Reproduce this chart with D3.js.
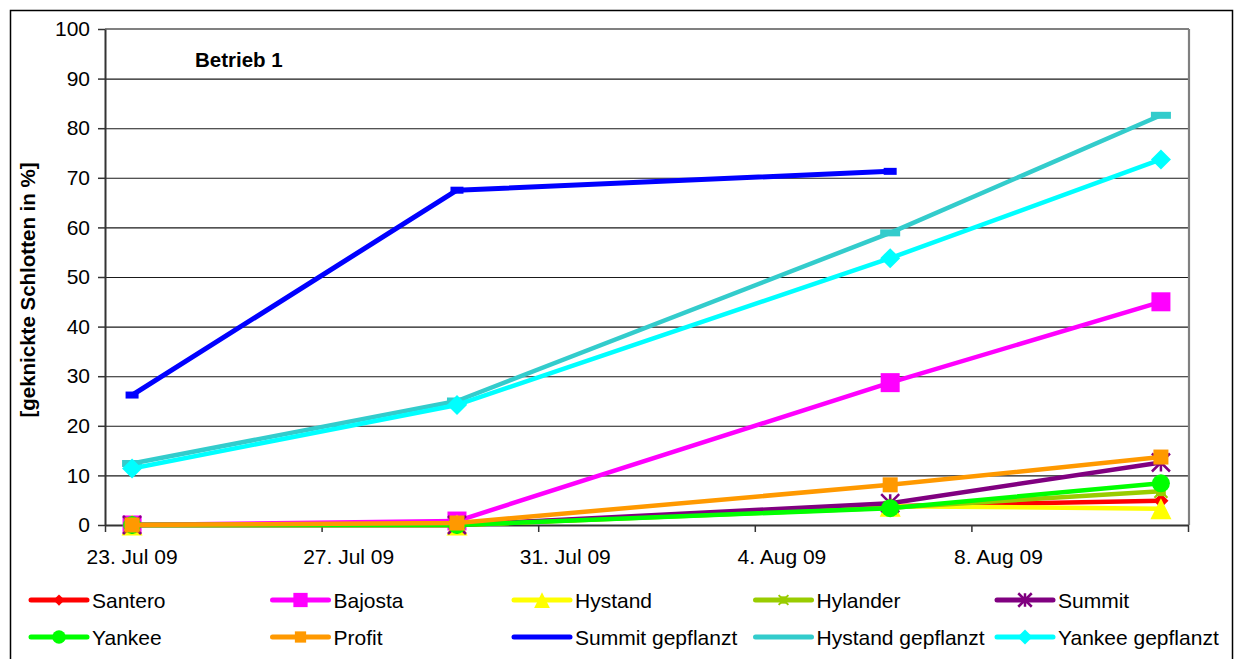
<!DOCTYPE html>
<html><head><meta charset="utf-8">
<script src="https://cdn.jsdelivr.net/npm/d3@7"></script>
<style>
html,body{margin:0;padding:0;background:#fff;}
svg{display:block;font-family:Arial,"Liberation Sans",sans-serif;}
</style></head><body>
<script>
// ---- data ----
const dates = ["2009-07-23", "2009-07-29", "2009-08-06", "2009-08-11"];
const seriesNames = ["Santero", "Bajosta", "Hystand", "Hylander", "Summit",
  "Yankee", "Profit", "Summit gepflanzt", "Hystand gepflanzt", "Yankee gepflanzt"];
const santero = [0, 0, 3.8, 4.9];
const bajosta = [0, 0.8, 28.7, 45.0];
const hystand = [0, 0, 3.8, 3.3];
const hylander = [0, 0, 3.5, 6.8];
const summit = [0, 0, 4.4, 12.6];
const yankee = [0, 0, 3.4, 8.4];
const profit = [0, 0.4, 8.1, 13.7];
const summitGepflanzt = [26.2, 67.5, 71.3, null];
const hystandGepflanzt = [12.4, 25.0, 58.9, 82.6];
const yankeeGepflanzt = [11.4, 24.2, 53.8, 73.7];
const yTicks = [0, 10, 20, 30, 40, 50, 60, 70, 80, 90, 100];
const xTickDates = ["2009-07-23", "2009-07-27", "2009-07-31", "2009-08-04", "2009-08-08", "2009-08-12"];
const xTickLabels = ["23. Jul 09", "27. Jul 09", "31. Jul 09", "4. Aug 09", "8. Aug 09"];
const chartTitle = "Betrieb 1";
const yTitle = "[geknickte Schlotten in %]";

const seriesValues = [santero, bajosta, hystand, hylander, summit, yankee, profit,
  summitGepflanzt, hystandGepflanzt, yankeeGepflanzt];

// ---- styles ----
const styles = [
  {color: "#FF0000", marker: "diamond", size: 15},
  {color: "#FF00FF", marker: "square", size: 19},
  {color: "#FFFF00", marker: "triangle", size: 21},
  {color: "#99CC00", marker: "xsquare", size: 13},
  {color: "#800080", marker: "asterisk", size: 18},
  {color: "#00FF00", marker: "circle", size: 18},
  {color: "#FF9900", marker: "square", size: 15},
  {color: "#0000FF", marker: "dash", size: 13},
  {color: "#33CCCC", marker: "dash", size: 20},
  {color: "#00FFFF", marker: "diamond", size: 20}
];

const W = 1239, H = 659;
const FONT = 21;
const svg = d3.select("body").append("svg").attr("width", W).attr("height", H);

// outer frame
svg.append("rect").attr("x", 10.5).attr("y", 10.5).attr("width", 1222).attr("height", 652)
  .attr("fill", "#fff").attr("stroke", "#000").attr("stroke-width", 1.5);

const parse = d3.timeParse("%Y-%m-%d");
const x = d3.scaleTime().domain([parse("2009-07-23"), parse("2009-08-12")]).range([105, 1188]);
const y = d3.scaleLinear().domain([0, 100]).range([525, 29]);
const mid = s => d3.timeHour.offset(parse(s), 12);

// gridlines
svg.append("g").selectAll("line").data(yTicks.filter(v => v > 0 && v < 100)).join("line")
  .attr("x1", x.range()[0]).attr("x2", x.range()[1])
  .attr("y1", d => y(d) + 0.5).attr("y2", d => y(d) + 0.5)
  .attr("stroke", "#1a1a1a").attr("stroke-width", 1.1);

// plot border top / right (gray)
svg.append("line").attr("x1", x.range()[0]).attr("x2", x.range()[1] + 1)
  .attr("y1", y(100)).attr("y2", y(100)).attr("stroke", "#808080").attr("stroke-width", 2.2);
svg.append("line").attr("x1", x.range()[1] + 1).attr("x2", x.range()[1] + 1)
  .attr("y1", y(100)).attr("y2", y(0)).attr("stroke", "#808080").attr("stroke-width", 2.2);

// y axis
const yAxis = svg.append("g").attr("transform", `translate(${x.range()[0]},0)`)
  .call(d3.axisLeft(y).tickValues(yTicks).tickSize(7).tickPadding(8).tickSizeOuter(0));
yAxis.select(".domain").attr("stroke", "#333").attr("stroke-width", 2);
yAxis.selectAll(".tick line").attr("stroke", "#333").attr("stroke-width", 1.5);
yAxis.selectAll("text").attr("font-size", FONT).attr("fill", "#000")
  .attr("font-family", "Arial, 'Liberation Sans', sans-serif");

// x axis
const xAxis = svg.append("g").attr("transform", `translate(0,${y(0)})`)
  .call(d3.axisBottom(x).tickValues(xTickDates.map(parse)).tickSize(7).tickSizeOuter(0).tickFormat(""));
xAxis.select(".domain").attr("stroke", "#333").attr("stroke-width", 2);
xAxis.selectAll(".tick line").attr("stroke", "#333").attr("stroke-width", 1.5);
svg.append("g").selectAll("text").data(xTickLabels).join("text")
  .attr("x", (d, i) => x(mid(xTickDates[i])))
  .attr("y", 564)
  .attr("text-anchor", "middle").attr("font-size", FONT).text(d => d);

// titles
svg.append("text").attr("x", 195).attr("y", 67).attr("font-size", 20.5).attr("font-weight", "bold")
  .text(chartTitle);
svg.append("text").attr("transform", "translate(35,290) rotate(-90)")
  .attr("text-anchor", "middle").attr("font-size", 20.5).attr("font-weight", "bold").text(yTitle);

// marker drawing
function drawMarker(g, type, s, color, cx, cy) {
  const h = s / 2;
  if (type === "none") return;
  if (type === "diamond") {
    g.append("path").attr("d", `M${cx},${cy - h}L${cx + h},${cy}L${cx},${cy + h}L${cx - h},${cy}Z`).attr("fill", color);
  } else if (type === "square") {
    g.append("rect").attr("x", cx - h).attr("y", cy - h).attr("width", s).attr("height", s).attr("fill", color);
  } else if (type === "triangle") {
    g.append("path").attr("d", `M${cx},${cy - h}L${cx + h},${cy + h}L${cx - h},${cy + h}Z`).attr("fill", color);
  } else if (type === "circle") {
    g.append("circle").attr("cx", cx).attr("cy", cy).attr("r", h).attr("fill", color);
  } else if (type === "xsquare") {
    g.append("rect").attr("x", cx - h * 0.75).attr("y", cy - h * 0.75).attr("width", s * 0.75).attr("height", s * 0.75).attr("fill", color);
    g.append("path").attr("d", `M${cx - h},${cy - h}L${cx + h},${cy + h}M${cx + h},${cy - h}L${cx - h},${cy + h}`)
      .attr("stroke", color).attr("stroke-width", 2);
  } else if (type === "asterisk") {
    g.append("path").attr("d", `M${cx - h},${cy - h}L${cx + h},${cy + h}M${cx + h},${cy - h}L${cx - h},${cy + h}M${cx},${cy - h}L${cx},${cy + h}`)
      .attr("stroke", color).attr("stroke-width", 2.5);
  } else if (type === "dash") {
    g.append("rect").attr("x", cx - h).attr("y", cy - 3.5).attr("width", s).attr("height", 7).attr("fill", color);
  }
}

// series
const line = d3.line().defined(d => d.v !== null).x(d => x(mid(d.date))).y(d => y(d.v));
seriesValues.forEach((vals, i) => {
  const st = styles[i];
  const pts = dates.map((d, j) => ({date: d, v: vals[j]}));
  const g = svg.append("g");
  g.append("path").datum(pts).attr("d", line).attr("fill", "none")
    .attr("stroke", st.color).attr("stroke-width", i === 7 ? 5 : 4.5)
    .attr("stroke-linejoin", "round").attr("stroke-linecap", "butt");
  pts.filter(p => p.v !== null).forEach(p => drawMarker(g, st.marker, st.size, st.color, x(mid(p.date)), y(p.v)));
});

// legend
const legCols = [31, 272.5, 514, 755.5, 997];
const legRows = [600, 637];
seriesNames.forEach((name, i) => {
  const st = styles[i];
  const lx = legCols[i % 5], ly = legRows[Math.floor(i / 5)];
  const g = svg.append("g");
  g.append("line").attr("x1", lx).attr("x2", lx + 56).attr("y1", ly).attr("y2", ly)
    .attr("stroke", st.color).attr("stroke-width", 5).attr("stroke-linecap", "round");
  if (st.marker !== "dash") drawMarker(g, st.marker, st.size * 0.75, st.color, lx + 28, ly);
  g.append("text").attr("x", lx + 61).attr("y", ly + 7.5).attr("font-size", FONT).text(name);
});
</script>
</body></html>
